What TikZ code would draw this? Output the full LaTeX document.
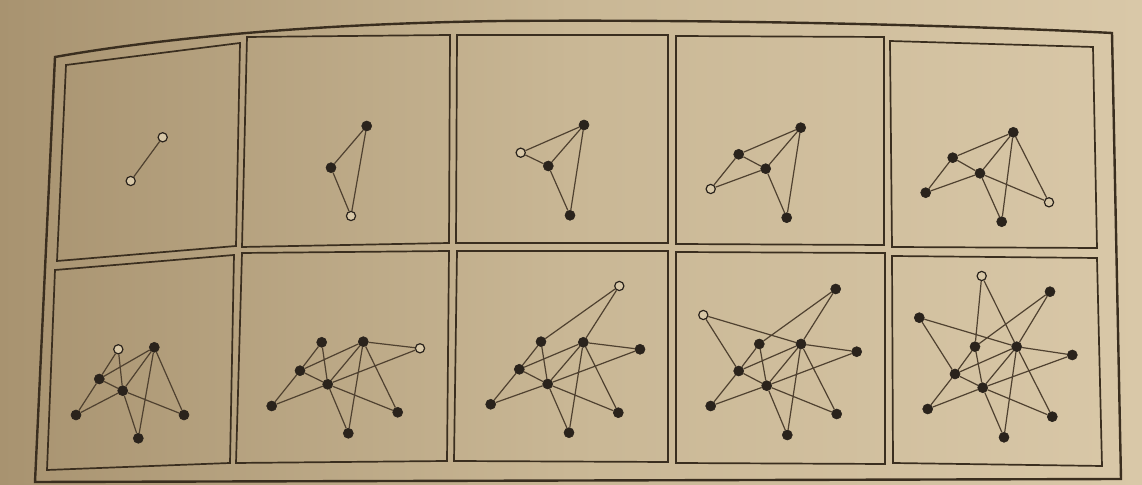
\documentclass[tikz,border=0pt]{standalone}
\usetikzlibrary{calc}
\definecolor{paperL}{HTML}{A89370}
\definecolor{paperM}{HTML}{C9B795}
\definecolor{paperR}{HTML}{D9C8A8}
\definecolor{ink}{HTML}{3A2E1F}
\definecolor{edgeink}{HTML}{4F4130}
\definecolor{dotink}{HTML}{2A231C}
\definecolor{openfill}{HTML}{D8C8A8}
\tikzset{
  outerframe/.style={draw=ink, line width=1.2pt, line join=miter},
  panelframe/.style={draw=ink, line width=0.85pt, line join=miter},
  gedge/.style={draw=edgeink, line width=0.6pt},
  fnode/.style={circle, fill=dotink, draw=dotink, line width=0.3pt, minimum size=5pt, inner sep=0pt},
  onode/.style={circle, fill=openfill, draw=dotink, line width=0.6pt, minimum size=4.6pt, inner sep=0pt}
}
\begin{document}
\begin{tikzpicture}[x=0.5pt, y=-0.5pt]
\useasboundingbox (0,0) rectangle (1142,485);
\shade[left color=paperL, right color=paperR, middle color=paperM] (0,0) rectangle (1142,485);
% outer frame
\draw[outerframe] (55,57) .. controls (150,40) and (300,24) .. (500,21)
  .. controls (750,19) and (1000,27) .. (1112,33) -- (1121,479) -- (35,482) -- cycle;
% panels
\draw[panelframe] (66,65) -- (240,43) -- (236,246) -- (57,261) -- cycle;
\draw[panelframe] (247,37) -- (450,35) -- (449,243) -- (242,247) -- cycle;
\draw[panelframe] (457,35) -- (668,35) -- (668,243) -- (456,243) -- cycle;
\draw[panelframe] (676,36) -- (884,37) -- (884,245) -- (676,244) -- cycle;
\draw[panelframe] (890,41) -- (1093,47) -- (1097,248) -- (892,247) -- cycle;
\draw[panelframe] (55,270) -- (234,255) -- (230,463) -- (47,470) -- cycle;
\draw[panelframe] (242,253) -- (449,251) -- (447,461) -- (236,463) -- cycle;
\draw[panelframe] (457,251) -- (668,251) -- (668,462) -- (454,461) -- cycle;
\draw[panelframe] (676,252) -- (885,253) -- (885,464) -- (676,463) -- cycle;
\draw[panelframe] (892,256) -- (1097,258) -- (1102,466) -- (893,463) -- cycle;

% ---------- panel 1
\node[onode] (a1) at (162.7,137.3) {};
\node[onode] (a2) at (130.7,181) {};
\draw[gedge] (a1) -- (a2);

% ---------- panel 2
\node[fnode] (b1) at (366.7,126) {};
\node[fnode] (b2) at (331,167.7) {};
\node[onode] (b3) at (351,216) {};
\draw[gedge] (b1) -- (b2) (b3) -- (b1) (b3) -- (b2);

% ---------- panel 3
\node[fnode] (c1) at (584,125) {};
\node[fnode] (c2) at (548.3,166) {};
\node[fnode] (c3) at (570,215.3) {};
\node[onode] (c4) at (520.7,152.7) {};
\draw[gedge] (c1) -- (c2) (c3) -- (c1) (c3) -- (c2) (c4) -- (c1) (c4) -- (c2);

% ---------- panel 4
\node[fnode] (d1) at (800.7,127.7) {};
\node[fnode] (d2) at (765.7,168.7) {};
\node[fnode] (d3) at (786.7,217.7) {};
\node[fnode] (d4) at (738.7,154.3) {};
\node[onode] (d5) at (710.7,189) {};
\draw[gedge] (d1) -- (d2) (d3) -- (d1) (d3) -- (d2) (d4) -- (d1) (d4) -- (d2)
  (d5) -- (d4) (d5) -- (d2);

% ---------- panel 5
\node[fnode] (e1) at (1013.3,132.3) {};
\node[fnode] (e2) at (980,173.3) {};
\node[fnode] (e3) at (1001.7,221.7) {};
\node[fnode] (e4) at (952.7,157.7) {};
\node[fnode] (e5) at (925.7,192.7) {};
\node[onode] (e6) at (1049,202.3) {};
\draw[gedge] (e1) -- (e2) (e3) -- (e1) (e3) -- (e2) (e4) -- (e1) (e4) -- (e2)
  (e5) -- (e4) (e5) -- (e2) (e6) -- (e1) (e6) -- (e2);

% ---------- panel 6
\node[fnode] (f1) at (154.3,347.3) {};
\node[fnode] (f2) at (122.7,390.7) {};
\node[fnode] (f3) at (138.3,438.3) {};
\node[fnode] (f4) at (99.3,379) {};
\node[fnode] (f5) at (76,415) {};
\node[fnode] (f6) at (184,415) {};
\node[onode] (f7) at (118.3,349.3) {};
\draw[gedge] (f1) -- (f2) (f3) -- (f1) (f3) -- (f2) (f4) -- (f1) (f4) -- (f2)
  (f5) -- (f4) (f5) -- (f2) (f6) -- (f1) (f6) -- (f2) (f7) -- (f4) (f7) -- (f2);

% ---------- panel 7
\node[fnode] (g1) at (363.3,341.7) {};
\node[fnode] (g2) at (327.7,384.3) {};
\node[fnode] (g3) at (348.3,433.3) {};
\node[fnode] (g4) at (300,370.7) {};
\node[fnode] (g5) at (271.7,406) {};
\node[fnode] (g6) at (397.7,412.3) {};
\node[fnode] (g7) at (321.7,342.3) {};
\node[onode] (g8) at (420,348.3) {};
\draw[gedge] (g1) -- (g2) (g3) -- (g1) (g3) -- (g2) (g4) -- (g1) (g4) -- (g2)
  (g5) -- (g4) (g5) -- (g2) (g6) -- (g1) (g6) -- (g2) (g7) -- (g4) (g7) -- (g2)
  (g8) -- (g1) (g8) -- (g2);

% ---------- panel 8
\node[fnode] (h1) at (583.3,342.3) {};
\node[fnode] (h2) at (547.7,384) {};
\node[fnode] (h3) at (569,432.7) {};
\node[fnode] (h4) at (519.3,369.3) {};
\node[fnode] (h5) at (490.7,404.3) {};
\node[fnode] (h6) at (618.3,412.7) {};
\node[fnode] (h7) at (541,341.7) {};
\node[fnode] (h8) at (640,349.3) {};
\node[onode] (h9) at (619.3,286) {};
\draw[gedge] (h1) -- (h2) (h3) -- (h1) (h3) -- (h2) (h4) -- (h1) (h4) -- (h2)
  (h5) -- (h4) (h5) -- (h2) (h6) -- (h1) (h6) -- (h2) (h7) -- (h4) (h7) -- (h2)
  (h8) -- (h1) (h8) -- (h2) (h9) -- (h7) (h9) -- (h1);

% ---------- panel 9
\node[fnode] (i1) at (801,344) {};
\node[fnode] (i2) at (766.7,385.7) {};
\node[fnode] (i3) at (787.3,435) {};
\node[fnode] (i4) at (738.7,371) {};
\node[fnode] (i5) at (710.7,406) {};
\node[fnode] (i6) at (836.7,414) {};
\node[fnode] (i7) at (759.3,344) {};
\node[fnode] (i8) at (856.7,351.7) {};
\node[fnode] (i9) at (835.7,289) {};
\node[onode] (i10) at (703.3,315) {};
\draw[gedge] (i1) -- (i2) (i3) -- (i1) (i3) -- (i2) (i4) -- (i1) (i4) -- (i2)
  (i5) -- (i4) (i5) -- (i2) (i6) -- (i1) (i6) -- (i2) (i7) -- (i4) (i7) -- (i2)
  (i8) -- (i1) (i8) -- (i2) (i9) -- (i7) (i9) -- (i1) (i10) -- (i4) (i10) -- (i1);

% ---------- panel 10
\node[fnode] (j1) at (1016.7,346.7) {};
\node[fnode] (j2) at (982.7,387.7) {};
\node[fnode] (j3) at (1004,437.3) {};
\node[fnode] (j4) at (955,374) {};
\node[fnode] (j5) at (927.7,409) {};
\node[fnode] (j6) at (1052.3,416.7) {};
\node[fnode] (j7) at (975,346.7) {};
\node[fnode] (j8) at (1072.3,355) {};
\node[fnode] (j9) at (1050,291.7) {};
\node[fnode] (j10) at (919.3,317.7) {};
\node[onode] (j11) at (981.7,276) {};
\draw[gedge] (j1) -- (j2) (j3) -- (j1) (j3) -- (j2) (j4) -- (j1) (j4) -- (j2)
  (j5) -- (j4) (j5) -- (j2) (j6) -- (j1) (j6) -- (j2) (j7) -- (j4) (j7) -- (j2)
  (j8) -- (j1) (j8) -- (j2) (j9) -- (j7) (j9) -- (j1) (j10) -- (j4) (j10) -- (j1)
  (j11) -- (j7) (j11) -- (j1);
\end{tikzpicture}
\end{document}
